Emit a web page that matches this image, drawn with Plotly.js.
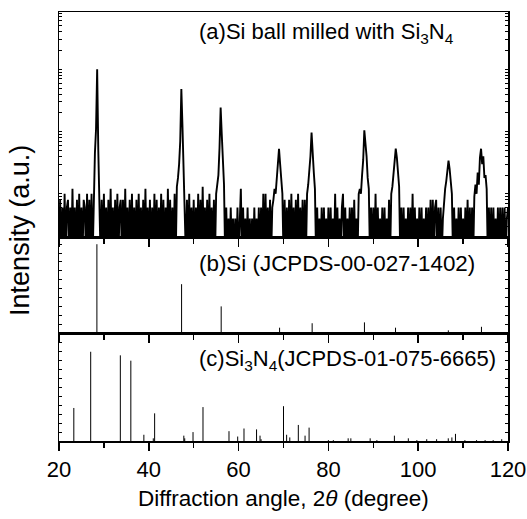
<!DOCTYPE html>
<html>
<head>
<meta charset="utf-8">
<script src="https://cdn.plot.ly/plotly-3.0.1.min.js"></script>
<style>html,body{margin:0;padding:0;background:#fff;}#chart{width:527px;height:519px;}</style>
</head>
<body>
<div id="chart"></div>
<script>
// ---- Data ----
const twoThetaStart = 20;
const twoThetaStep = 0.25;
// (a) measured pattern, one value per 0.25 degree from 20 to 120
const intensityA = [
  1,8,1,6,  1,10,1,6,  8,1,6,1,  12,1,6,1,  8,1,10,1,  6,1,8,6,  1,10,1,8,  1,10,1,17,
  45,110,1000,50,  14,1,8,1,  10,1,6,1,  8,1,12,1,  6,1,8,1,  10,1,6,8,  1,8,1,12,  1,6,1,8,
  1,10,1,6,  1,8,1,10,  1,6,1,8,  1,12,1,6,  1,8,1,6,  1,10,1,8,  1,6,1,10,  1,8,1,6,
  1,12,1,8,  1,6,1,10,  1,13,18,30,  70,480,120,30,  14,1,8,1,  10,1,6,1,  8,1,6,1,  10,1,8,1,
  13,1,6,1,  8,1,10,1,  6,1,8,1,  10,14,20,55,  244,90,35,14,  1,6,1,4,  1,6,1,4,  1,4,1,6,
  1,6,12,1,  6,1,4,1,  6,1,4,1,  4,1,6,1,  4,1,6,1,  6,1,10,1,  10,1,6,1,  8,1,6,8,
  12,10,18,28,  53,30,16,10,  1,8,1,6,  1,8,1,10,  1,6,1,8,  1,10,1,6,  1,8,1,8,  1,10,14,22,
  40,96,55,22,  12,1,6,1,  4,1,6,1,  6,1,4,1,  6,1,6,1,  4,1,10,1,  6,1,4,1,  6,10,1,6,
  1,4,1,6,  1,6,1,8,  1,4,1,10,  12,10,20,35,  105,70,40,18,  12,1,6,1,  6,1,10,1,  6,1,4,1,
  6,1,6,1,  4,1,8,1,  10,13,22,35,  53,38,23,13,  1,6,1,6,  1,4,1,6,  1,6,1,10,  1,6,1,4,
  1,6,1,6,  1,4,1,6,  1,6,1,8,  1,8,1,6,  8,1,6,1,  6,1,4,9,  12,16,25,34,  25,15,10,1,
  6,1,4,1,  6,1,6,1,  4,1,6,1,  8,1,6,1,  6,1,9,14,  10,22,14,38,  53,30,40,18,  20,12,1,6,
  1,6,1,6,  1,4,1,6,  1,6,1,6,  1,6,1,4,
  6
];
// (b) Si reference lines, JCPDS 00-027-1402
const siPeaks     = [28.44, 47.30, 56.12, 69.13, 76.38, 88.03, 94.95, 106.71, 114.09];
const siIntensity = [100, 55, 30, 6, 11, 12, 6, 3, 7];
// (c) Si3N4 reference lines, JCPDS 01-075-6665
const si3n4Peaks = [23.3, 27.06, 33.66, 36.0, 38.9, 41.0, 41.3, 47.8, 48.0, 49.85, 52.07, 57.86, 59.8,
  61.2, 64.0, 64.77, 65.0, 70.0, 70.7, 71.4, 73.3, 74.8, 75.7, 80.0, 81.1, 84.4, 85.0, 89.3, 90.8,
  94.7, 97.8, 99.7, 101.9, 104.1, 106.7, 107.5, 108.3, 110.4, 113.0, 114.9, 116.7, 118.6];
const si3n4Intensity = [37, 100, 96, 90, 7, 3, 31, 6, 3, 10, 38, 11, 5,
  14, 13, 6, 2, 39, 7, 4, 18, 6, 15, 1, 1, 3, 3, 3, 1,
  6, 3, 1, 2, 2, 3, 4, 8, 1, 1, 1, 1, 2];
const xTickVals = [20, 40, 60, 80, 100, 120];
const panelTexts = ['(a)Si ball milled with Si<sub>3</sub>N<sub>4</sub>',
                    '(b)Si (JCPDS-00-027-1402)',
                    '(c)Si<sub>3</sub>N<sub>4</sub>(JCPDS-01-075-6665)'];

// ---- Build traces ----
const xA = intensityA.map((_, i) => twoThetaStart + twoThetaStep * i);
function sticks(pos, val) {
  const x = [], y = [];
  pos.forEach((p, i) => { x.push(p, p, null); y.push(0, val[i], null); });
  return {x, y};
}
const sb = sticks(siPeaks, siIntensity);
const sc = sticks(si3n4Peaks, si3n4Intensity);

const FONT = 'Arial, "Liberation Sans", sans-serif';
const traces = [
  {x: xA, y: intensityA, xaxis: 'x3', yaxis: 'y3', mode: 'lines', line: {color: '#000', width: 1.9}, hoverinfo: 'skip'},
  {x: sb.x, y: sb.y, xaxis: 'x2', yaxis: 'y2', mode: 'lines', line: {color: '#000', width: 1}, hoverinfo: 'skip'},
  {x: sc.x, y: sc.y, xaxis: 'x', yaxis: 'y', mode: 'lines', line: {color: '#000', width: 1}, hoverinfo: 'skip'}
];

const dBot = [0, 0.2517], dMid = [0.2517, 0.4732], dTop = [0.4732, 1];
function xAx(anchor, labels) {
  return {
    anchor: anchor, range: [20, 120], showline: true, mirror: true, linecolor: '#000', linewidth: 1.5,
    showgrid: false, zeroline: false, ticks: 'outside', tickvals: xTickVals, ticklen: 8, tickwidth: 1.5, tickcolor: '#000',
    minor: {tickvals: [30, 50, 70, 90, 110], ticks: 'outside', ticklen: 5, tickwidth: 1.5, tickcolor: '#000'},
    showticklabels: labels, tickfont: {family: FONT, size: 22, color: '#000'}
  };
}
function yAx(anchor, domain, extra) {
  return Object.assign({
    anchor: anchor, domain: domain, showline: true, mirror: 'ticks', linecolor: '#000', linewidth: 1.5,
    showgrid: false, zeroline: false, ticks: 'inside', ticklen: 3, tickwidth: 1, tickcolor: '#000',
    showticklabels: false
  }, extra);
}

const layout = {
  width: 527, height: 519,
  margin: {l: 59, r: 19, t: 12, b: 78},
  paper_bgcolor: '#fff', plot_bgcolor: '#fff',
  showlegend: false,
  font: {family: FONT, color: '#000'},
  xaxis: xAx('y', true),
  xaxis2: Object.assign(xAx('y2', false), {matches: 'x'}),
  xaxis3: Object.assign(xAx('y3', false), {matches: 'x'}),
  yaxis: yAx('x', dBot, {range: [0, 121], dtick: 10}),
  yaxis2: yAx('x2', dMid, {range: [0, 107], dtick: 10}),
  yaxis3: yAx('x3', dTop, {type: 'log', range: [0.29, 3.92], dtick: 'D1'}),
  annotations: [
    {text: panelTexts[0], xref: 'paper', yref: 'paper', x: 0.307, y: 0.95, xanchor: 'left', yanchor: 'middle', showarrow: false, font: {size: 22, family: FONT}},
    {text: panelTexts[1], xref: 'paper', yref: 'paper', x: 0.307, y: 0.4126, xanchor: 'left', yanchor: 'middle', showarrow: false, font: {size: 22.4, family: FONT}},
    {text: panelTexts[2], xref: 'paper', yref: 'paper', x: 0.307, y: 0.189, xanchor: 'left', yanchor: 'middle', showarrow: false, font: {size: 22, family: FONT}},
    {text: 'Intensity (a.u.)', xref: 'paper', yref: 'paper', x: -0.0869, y: 0.492, xanchor: 'center', yanchor: 'middle', textangle: -90, showarrow: false, font: {size: 27, family: FONT}},
    {text: 'Diffraction angle, 2<i>θ</i> (degree)', xref: 'paper', yref: 'paper', x: 0.5, y: -0.133, xanchor: 'center', yanchor: 'middle', showarrow: false, font: {size: 22.5, family: FONT}}
  ]
};

Plotly.newPlot('chart', traces, layout, {staticPlot: true, displayModeBar: false});
</script>
</body>
</html>
